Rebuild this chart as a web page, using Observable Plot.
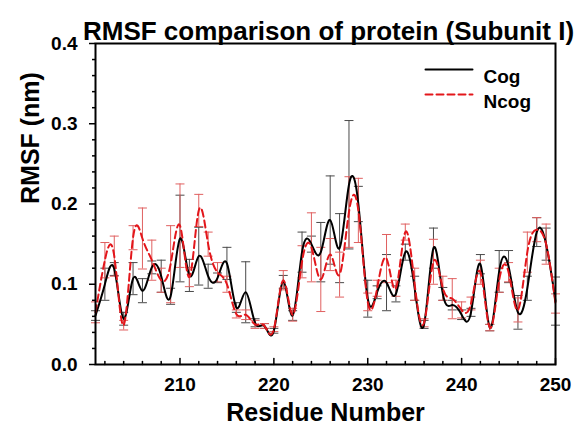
<!DOCTYPE html>
<html><head><meta charset="utf-8">
<script src="https://cdn.jsdelivr.net/npm/d3@7"></script>
<script src="https://cdn.jsdelivr.net/npm/@observablehq/plot@0.6"></script>
<style>body{margin:0;background:#fff}</style>
</head><body><div id="chart"></div>
<script>
const residues = [201,202,203,204,205,206,207,208,209,210,211,212,213,214,215,216,217,218,219,220,
  221,222,223,224,225,226,227,228,229,230,231,232,233,234,235,236,237,238,239,240,
  241,242,243,244,245,246,247,248,249,250];
const cog = [0.061,0.100,0.119,0.057,0.107,0.092,0.121,0.110,0.085,0.157,
  0.111,0.135,0.110,0.108,0.126,0.071,0.090,0.052,0.048,0.042,
  0.103,0.061,0.140,0.150,0.140,0.180,0.145,0.224,0.200,0.082,
  0.090,0.102,0.088,0.140,0.095,0.050,0.145,0.088,0.074,0.062,
  0.065,0.125,0.046,0.116,0.122,0.065,0.095,0.165,0.150,0.079];
const cogSD = [0.006,0.020,0.008,0.008,0.020,0.015,0.008,0.020,0.010,0.054,
  0.020,0.036,0.015,0.006,0.020,0.006,0.038,0.005,0.003,0.003,
  0.008,0.006,0.025,0.010,0.037,0.055,0.043,0.080,0.022,0.023,
  0.008,0.035,0.010,0.010,0.015,0.005,0.025,0.008,0.006,0.006,
  0.005,0.012,0.004,0.026,0.020,0.021,0.015,0.018,0.020,0.030];
const ncog = [0.065,0.130,0.135,0.049,0.158,0.157,0.130,0.105,0.125,0.173,
  0.109,0.192,0.150,0.115,0.100,0.063,0.062,0.050,0.048,0.044,
  0.105,0.062,0.128,0.146,0.106,0.137,0.112,0.190,0.192,0.078,
  0.095,0.132,0.095,0.165,0.100,0.052,0.128,0.095,0.082,0.068,
  0.076,0.115,0.046,0.105,0.115,0.068,0.140,0.168,0.150,0.076];
const ncogSD = [0.013,0.022,0.025,0.006,0.015,0.038,0.025,0.015,0.048,0.052,
  0.012,0.020,0.015,0.012,0.010,0.005,0.006,0.005,0.003,0.003,
  0.012,0.008,0.020,0.043,0.040,0.020,0.028,0.044,0.040,0.011,
  0.010,0.030,0.010,0.010,0.020,0.005,0.028,0.015,0.025,0.010,
  0.008,0.015,0.004,0.015,0.012,0.015,0.025,0.015,0.025,0.012];
const xMajor = [210,220,230,240,250];
const xMinor = [202,204,206,208,212,214,216,218,222,224,226,228,232,234,236,238,242,244,246,248];
const yMajor = [0,0.1,0.2,0.3,0.4];
const yMinor = [0.02,0.04,0.06,0.08,0.12,0.14,0.16,0.18,0.22,0.24,0.26,0.28,0.32,0.34,0.36,0.38];
const seriesNames = ["Cog","Ncog"];
const titleText = "RMSF comparison of protein (Subunit I)";
const xLabel = "Residue Number";
const yLabel = "RMSF (nm)";

const rows = residues.map((r,i)=>({r, cog:cog[i], cogSD:cogSD[i], ncog:ncog[i], ncogSD:ncogSD[i]}));
const caps = (key, sdKey) => rows.flatMap(d=>[{r:d.r, v:d[key]-d[sdKey]},{r:d.r, v:d[key]+d[sdKey]}]);
const capSymbol = {draw(ctx, size){const w=Math.sqrt(size/Math.PI); ctx.moveTo(-w,0); ctx.lineTo(w,0);}};
const tickShape = {draw(ctx, l){ctx.moveTo(0,0); ctx.lineTo(0,-l);}};
const blackBar = "#4a4a4a", redBar = "#e06060";
const font = "Liberation Sans, Arial, sans-serif";

const chart = Plot.plot({
  width: 574, height: 435,
  marginLeft: 95, marginRight: 19, marginTop: 43, marginBottom: 71,
  style: {fontFamily: font, background: "white", color: "black"},
  x: {domain: [201, 250]},
  y: {domain: [0, 0.4]},
  marks: [
    Plot.ruleX(rows, {x:"r", y1:d=>d.cog-d.cogSD, y2:d=>d.cog+d.cogSD, stroke:blackBar, strokeWidth:1}),
    Plot.dot(caps("cog","cogSD"), {x:"r", y:"v", symbol:capSymbol, r:4.5, stroke:blackBar, fill:"none", strokeWidth:1}),
    Plot.ruleX(rows, {x:"r", y1:d=>d.ncog-d.ncogSD, y2:d=>d.ncog+d.ncogSD, stroke:redBar, strokeWidth:1}),
    Plot.dot(caps("ncog","ncogSD"), {x:"r", y:"v", symbol:capSymbol, r:4.5, stroke:redBar, fill:"none", strokeWidth:1}),
    Plot.line(rows, {x:"r", y:"cog", curve:"natural", stroke:"black", strokeWidth:2}),
    Plot.line(rows, {x:"r", y:"ncog", curve:"natural", stroke:"#e3161b", strokeWidth:2, strokeDasharray:"7,4"}),
    Plot.frame({stroke:"black", strokeWidth:2}),
    Plot.axisY(yMajor, {tickSize:6, tickPadding:12, strokeWidth:1.5, tickFormat:d3.format(".1f"), fontSize:19, fontWeight:"bold", label:null}),
    Plot.axisY(yMinor, {tickSize:3, strokeWidth:1.5, tickFormat:()=>"", label:null}),
    Plot.axisX(xMajor, {tickSize:0, tickPadding:13, tickFormat:d3.format("d"), fontSize:19, fontWeight:"bold", label:null}),
    Plot.vector(xMajor, {x:d=>d, frameAnchor:"bottom", length:6, anchor:"start", shape:tickShape, stroke:"black", strokeWidth:1.5}),
    Plot.vector(xMinor, {x:d=>d, frameAnchor:"bottom", length:3, anchor:"start", shape:tickShape, stroke:"black", strokeWidth:1.5}),
    Plot.text([titleText], {text:d=>d, frameAnchor:"top", dx:3, dy:-22, fontSize:26, fontWeight:"bold"}),
    Plot.text([xLabel], {text:d=>d, frameAnchor:"bottom", dy:56, fontSize:25, fontWeight:"bold"}),
    Plot.text([yLabel], {text:d=>d, frameAnchor:"left", dx:-65, rotate:-90, fontSize:25, fontWeight:"bold"}),
    Plot.vector([seriesNames[0]], {frameAnchor:"top-left", dx:330, dy:26, length:47, rotate:90, anchor:"start", shape:tickShape, stroke:"black", strokeWidth:2}),
    Plot.vector([seriesNames[1]], {frameAnchor:"top-left", dx:330, dy:51, length:47, rotate:90, anchor:"start", shape:tickShape, stroke:"#e3161b", strokeWidth:2, strokeDasharray:"7,4"}),
    Plot.text([seriesNames[0]], {text:d=>d, frameAnchor:"top-left", dx:388, dy:26, textAnchor:"start", fontSize:19, fontWeight:"bold"}),
    Plot.text([seriesNames[1]], {text:d=>d, frameAnchor:"top-left", dx:388, dy:51, textAnchor:"start", fontSize:19, fontWeight:"bold"})
  ]
});
document.getElementById("chart").appendChild(chart);
</script></body></html>
